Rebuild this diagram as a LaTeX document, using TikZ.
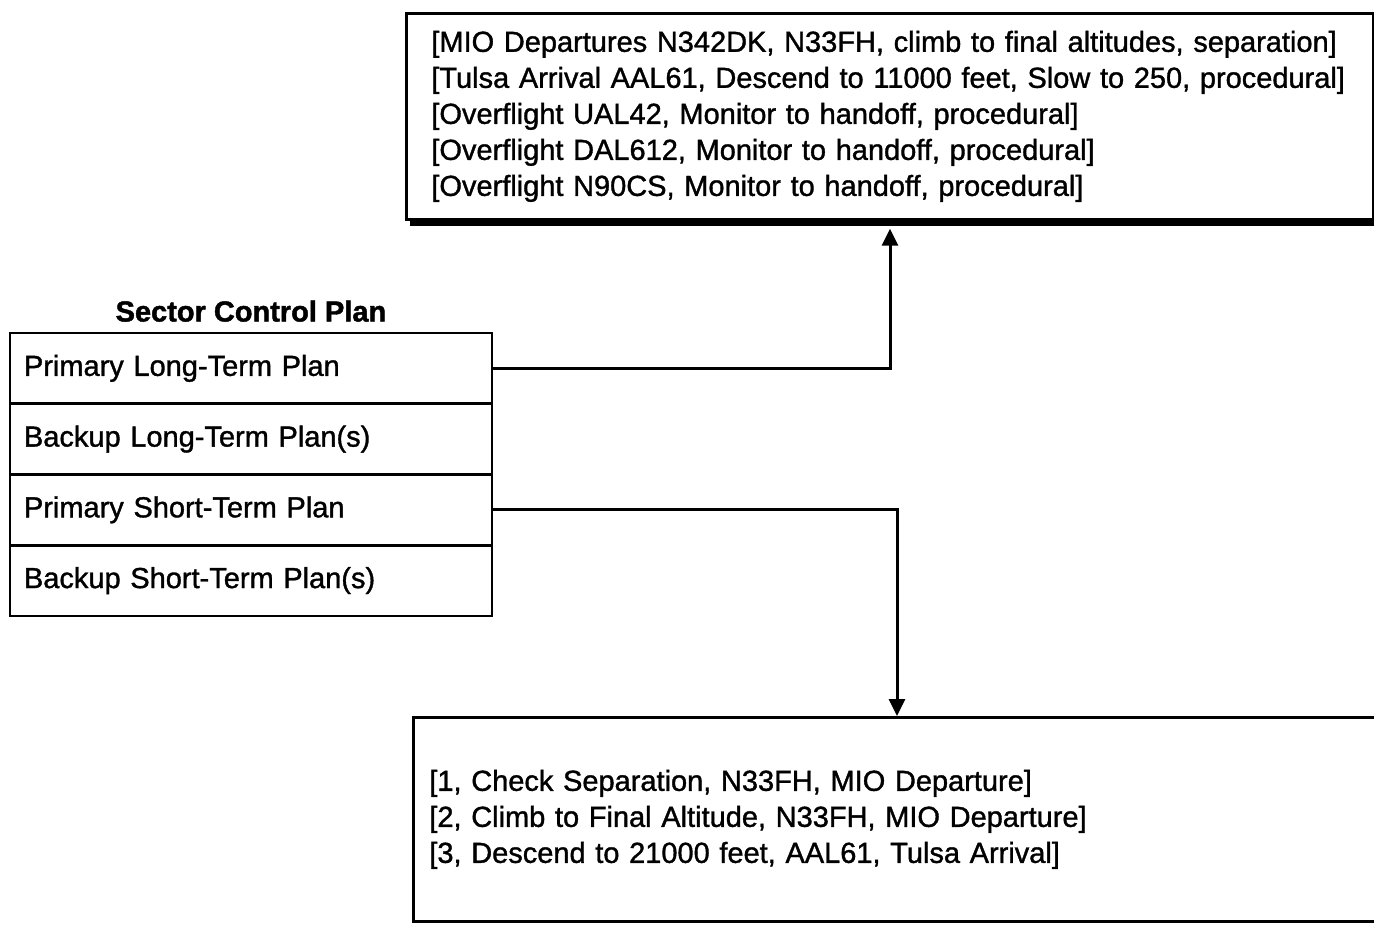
\documentclass[tikz,border=0pt]{standalone}
\usepackage{fontspec}
\setmainfont{Liberation Sans}[FakeBold=1.2, BoldFeatures={FakeBold=1.5}]
\usetikzlibrary{positioning,arrows.meta,shadows,calc}

\tikzset{
  planrow/.style={draw, line width=0.055cm, outer sep=0pt, minimum width=9.64cm,
    minimum height=1.415cm, text width=9.08cm, inner xsep=0.28cm, align=left},
  listbox/.style={draw, line width=0.055cm, fill=white, align=left, anchor=north west},
  link/.style={line width=0.06cm, -{Triangle[width=0.32cm,length=0.34cm]}}
}

\begin{document}
\begin{tikzpicture}[x=0.02cm, y=-0.02cm,
      every node/.style={font=\fontsize{16.5pt}{20.5pt}\selectfont}]
  \useasboundingbox (0,0) rectangle (1374,925);
  \node[listbox, drop shadow={fill=black, opacity=1, shadow xshift=0.08cm,
        shadow yshift=-0.14cm}, minimum height=4.12cm, text width=18.34cm,
        inner xsep=0.5cm] (tacts) at (405,12)
        {{[}MIO Departures N342DK, N33FH, climb to final altitudes, separation]\\
         {[}Tulsa Arrival AAL61, Descend to 11000 feet, Slow to 250, procedural]\\
         {[}Overflight UAL42, Monitor to handoff, procedural]\\
         {[}Overflight DAL612, Monitor to handoff, procedural]\\
         {[}Overflight N90CS, Monitor to handoff, procedural]};
  \node[planrow, anchor=north west] (plt) at (10,333) {Primary Long-Term Plan};
  \node[planrow, below=0pt of plt] (blt) {Backup Long-Term Plan(s)};
  \node[planrow, below=0pt of blt] (pst) {Primary Short-Term Plan};
  \node[planrow, below=0pt of pst] (bst) {Backup Short-Term Plan(s)};
  \node[font=\fontsize{16.5pt}{20.5pt}\selectfont\bfseries, above=0.1cm of plt] (scp)
        {Sector Control Plan};
  \node[listbox, minimum height=4.08cm, text width=19.12cm, inner xsep=0.32cm]
        (tasks) at (412,716)
        {{[}1, Check Separation, N33FH, MIO Departure]\\
         {[}2, Climb to Final Altitude, N33FH, MIO Departure]\\
         {[}3, Descend to 21000 feet, AAL61, Tulsa Arrival]};
  \draw[link] (plt.east) -| ($(tacts.south west)+(485,8)$);
  \draw[link] (pst.east) -| ($(tasks.north west)+(485,0)$);
\end{tikzpicture}
\end{document}
